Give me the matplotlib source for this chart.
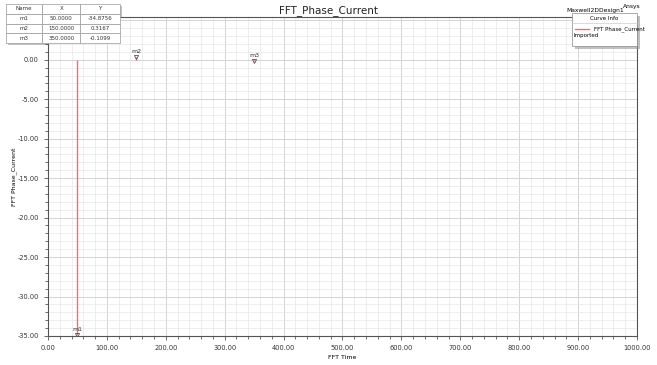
import matplotlib
matplotlib.use("Agg")
import matplotlib.pyplot as plt
from matplotlib.ticker import MultipleLocator, FormatStrFormatter

# spectrum values (only harmonic points are shown)
freq = [50.0, 150.0, 350.0]
phase = [-34.8756, 0.3167, -0.1099]
marker_names = ["m1", "m2", "m3"]

title = "FFT_Phase_Current"
xlabel = "FFT Time"
ylabel = "FFT Phase_Current"

fig = plt.figure(figsize=(6.57, 3.65), dpi=100)
ax = fig.add_axes([0.073, 0.0795, 0.8966, 0.8735])

red = "#f07070"
ax.vlines(freq, 0, phase, color=red, lw=1.0, zorder=3)
ax.plot(freq, phase, ls="none", marker="v", ms=3, mfc="none", mec="#555555",
        mew=0.6, zorder=4)
for n, x, y in zip(marker_names, freq, phase):
    ax.annotate(n, (x, y), xytext=(0, 2), textcoords="offset points",
                ha="center", va="bottom", fontsize=4.5, color="#333333")

ax.set_xlim(0, 1000)
ax.set_ylim(-35, 5.4)
ax.xaxis.set_major_locator(MultipleLocator(100))
ax.xaxis.set_minor_locator(MultipleLocator(20))
ax.yaxis.set_major_locator(MultipleLocator(5))
ax.yaxis.set_minor_locator(MultipleLocator(1))
ax.xaxis.set_major_formatter(FormatStrFormatter("%.2f"))
ax.yaxis.set_major_formatter(FormatStrFormatter("%.2f"))
ax.grid(which="major", color="#d4d4d4", lw=0.7)
ax.grid(which="minor", color="#e8e8e8", lw=0.5)
ax.set_axisbelow(True)
ax.tick_params(which="both", labelsize=4.8, colors="#333333", length=3, width=0.5)
ax.tick_params(which="minor", length=2)
for s in ax.spines.values():
    s.set_color("#555555")
    s.set_linewidth(0.8)

ax.set_xlabel(xlabel, fontsize=4.5, labelpad=3)
ax.set_ylabel(ylabel, fontsize=4.5)
ax.yaxis.set_label_coords(-0.052, 0.5)
fig.text(0.5, 0.972, title, ha="center", va="center", fontsize=7.5, color="#222222")
fig.text(566 / 657, 0.972, "Maxwell2DDesign1", ha="left", va="center", fontsize=4.3)
fig.text(623 / 657, 0.982, "Ansys", ha="left", va="center", fontsize=4.3)

# marker table
tax = fig.add_axes([6 / 657, 1 - 43 / 365, 114 / 657, 39 / 365])
tax.axis("off")
rows = [["Name", "X", "Y"]] + [[n, "%.4f" % x, "%.4f" % y]
                               for n, x, y in zip(marker_names, freq, phase)]
tbl = tax.table(cellText=rows, bbox=[0, 0, 1, 1], cellLoc="center",
                colWidths=[0.32, 0.33, 0.35])
tbl.auto_set_font_size(False)
for (r, c), cell in tbl.get_celld().items():
    cell.set_fontsize(4)
    cell.set_edgecolor("#999999")
    cell.set_linewidth(0.5)
    cell.get_text().set_color("#333333")
fig.patches.append(plt.Rectangle((8 / 657, 1 - 45 / 365), 114 / 657, 39 / 365,
                                 transform=fig.transFigure, fc="#999999",
                                 ec="none", zorder=-1, alpha=0.6))

# curve info box
lx0, ly0, lw_, lh = 572 / 657, 1 - 46 / 365, 65 / 657, 33 / 365
fig.patches.append(plt.Rectangle((lx0 + 3 / 657, ly0 - 3 / 365), lw_, lh,
                                 transform=fig.transFigure, fc="#999999",
                                 ec="none", alpha=0.6, zorder=5))
fig.patches.append(plt.Rectangle((lx0, ly0), lw_, lh, transform=fig.transFigure,
                                 fc="white", ec="#888888", lw=0.5, zorder=6))
fig.add_artist(plt.Line2D([lx0, lx0 + lw_], [ly0 + lh - 10 / 365] * 2,
                          transform=fig.transFigure, color="#cccccc", lw=0.5, zorder=7))
fig.text(lx0 + lw_ / 2, ly0 + lh - 5 / 365, "Curve Info", ha="center", va="center",
         fontsize=4, zorder=8)
fig.add_artist(plt.Line2D([lx0 + 3 / 657, lx0 + 17 / 657], [ly0 + lh - 16 / 365] * 2,
                          transform=fig.transFigure, color=red, lw=1, zorder=8))
fig.text(lx0 + 22 / 657, ly0 + lh - 16 / 365, "FFT Phase_Current", ha="left",
         va="center", fontsize=4, zorder=8)
fig.text(lx0 + 1 / 657, ly0 + lh - 23 / 365, "Imported", ha="left",
         va="center", fontsize=4, zorder=8)

fig.savefig("out.png", dpi=100)
